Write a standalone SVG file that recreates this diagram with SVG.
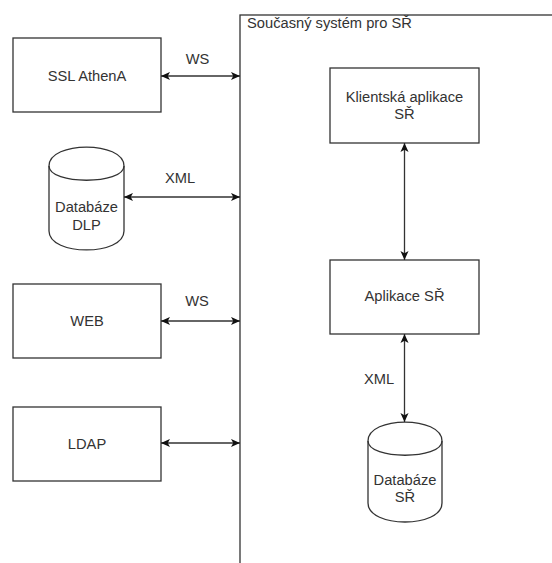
<svg xmlns="http://www.w3.org/2000/svg" width="552" height="563" viewBox="0 0 552 563">
<style>
.box{fill:#fff;stroke:#333;stroke-width:1.3}
.db{fill:#fff;stroke:#333;stroke-width:1.3}
.fr{fill:none;stroke:#333;stroke-width:1.3}
.cn{fill:none;stroke:#333;stroke-width:1.3;marker-start:url(#ah);marker-end:url(#ah)}
text{font-family:"Liberation Sans",Arial,Helvetica,sans-serif;font-size:14.7px;fill:#333}
.c{text-anchor:middle}
</style>
<defs>
<marker id="ah" viewBox="0 0 10 10" refX="10" refY="5" markerWidth="10" markerHeight="9" markerUnits="userSpaceOnUse" orient="auto-start-reverse">
<path d="M0,0.5 L10,5 L0,9.5 L2.5,5 Z" fill="#111"/>
</marker>
</defs>
<g id="container">
<rect class="box" x="240" y="15" width="400" height="600"/>
<text x="247" y="28">Současný systém pro SŘ</text>
</g>
<g id="ssl">
<rect class="box" x="13" y="38" width="148" height="74"/>
<text class="c" x="87" y="80.5">SSL AthenA</text>
</g>
<g id="dlp">
<path class="db" d="M49,166 C49,140.7 124,140.7 124,166 L124,231 C124,256.3 49,256.3 49,231 Z"/>
<path class="fr" d="M49,166 C49,185 124,185 124,166"/>
<text class="c" x="86.5" y="212">Databáze</text>
<text class="c" x="86.5" y="230">DLP</text>
</g>
<g id="web">
<rect class="box" x="13" y="284" width="148" height="74"/>
<text class="c" x="87" y="326">WEB</text>
</g>
<g id="ldap">
<rect class="box" x="13" y="407" width="148" height="74"/>
<text class="c" x="87" y="449">LDAP</text>
</g>
<g id="klient">
<rect class="box" x="330" y="68" width="149" height="75"/>
<text class="c" x="404.5" y="102">Klientská aplikace</text>
<text class="c" x="404.5" y="119">SŘ</text>
</g>
<g id="aplikace">
<rect class="box" x="330" y="260" width="149" height="74"/>
<text class="c" x="404.5" y="301">Aplikace SŘ</text>
</g>
<g id="dbsr">
<path class="db" d="M368,441 C368,415.7 442,415.7 442,441 L442,503 C442,528.3 368,528.3 368,503 Z"/>
<path class="fr" d="M368,441 C368,460 442,460 442,441"/>
<text class="c" x="405" y="485">Databáze</text>
<text class="c" x="405" y="502">SŘ</text>
</g>
<g id="connectors">
<line class="cn" x1="161" y1="76" x2="240" y2="76"/>
<line class="cn" x1="124" y1="197" x2="240" y2="197"/>
<line class="cn" x1="161" y1="321" x2="240" y2="321"/>
<line class="cn" x1="161" y1="443" x2="240" y2="443"/>
<line class="cn" x1="404.5" y1="143" x2="404.5" y2="260"/>
<line class="cn" x1="404.5" y1="334" x2="404.5" y2="422"/>
<text class="c" x="197.5" y="63.5">WS</text>
<text class="c" x="180" y="183">XML</text>
<text class="c" x="197" y="306">WS</text>
<text class="c" x="379" y="384">XML</text>
</g>
</svg>
